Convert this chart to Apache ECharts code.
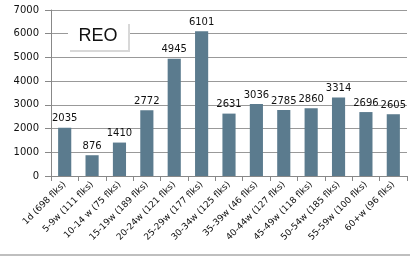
<!DOCTYPE html>
<html>
<head>
<meta charset="utf-8">
<script src="https://cdn.jsdelivr.net/npm/echarts@6/dist/echarts.min.js"></script>
<style>
  html, body { margin: 0; padding: 0; background: #fff; }
  #chart { width: 412px; height: 262px; }
</style>
</head>
<body>
<div id="chart"></div>
<script>
var categories = ['1d (698 flks)', '5-9w (111 flks)', '10-14 w (75 flks)', '15-19w (189 flks)',
    '20-24w (121 flks)', '25-29w (177 flks)', '30-34w (125 flks)', '35-39w (46 flks)',
    '40-44w (127 flks)', '45-49w (118 flks)', '50-54w (185 flks)', '55-59w (100 flks)', '60+w (96 flks)'];
var values = [2035, 876, 1410, 2772, 4945, 6101, 2631, 3036, 2785, 2860, 3314, 2696, 2605];
var yTicks = [0, 1000, 2000, 3000, 4000, 5000, 6000, 7000];

var myChart = echarts.init(document.getElementById('chart'));

myChart.setOption({
    backgroundColor: '#fff',
    animation: false,
    grid: { left: 51, right: 5, top: 10, bottom: 86 },
    xAxis: {
        type: 'category',
        data: categories,
        axisLine: { lineStyle: { color: '#888', width: 1 } },
        axisTick: { show: true, length: 5, lineStyle: { color: '#888' } },
        axisLabel: {
            rotate: 45,
            interval: 0,
            margin: 7,
            color: '#111',
            fontFamily: 'DejaVu Sans',
            fontSize: 9
        }
    },
    yAxis: {
        type: 'value',
        min: yTicks[0],
        max: yTicks[yTicks.length - 1],
        interval: 1000,
        axisLine: { show: true, lineStyle: { color: '#888', width: 1 } },
        axisTick: { show: true, length: 6, lineStyle: { color: '#888' } },
        splitLine: { lineStyle: { color: '#999', width: 1 } },
        axisLabel: {
            margin: 12,
            color: '#111',
            fontFamily: 'DejaVu Sans',
            fontSize: 10,
            formatter: function (v) { return String(v); }
        }
    },
    series: [{
        type: 'bar',
        data: values,
        barWidth: '48%',
        itemStyle: { color: '#5b7b8e' },
        label: {
            show: true,
            position: 'top',
            distance: 4,
            color: '#111',
            fontFamily: 'DejaVu Sans',
            fontSize: 10
        }
    }],
    graphic: [
        {
            type: 'rect',
            shape: { x: 70, y: 24, width: 60, height: 28 },
            style: { fill: '#d8d8d8' },
            z: 10
        },
        {
            type: 'rect',
            shape: { x: 68, y: 22, width: 60, height: 28 },
            style: { fill: '#fff' },
            z: 11
        },
        {
            type: 'text',
            x: 98,
            y: 36,
            style: {
                text: 'REO',
                fill: '#111',
                font: '18px "Liberation Sans"',
                textAlign: 'center',
                textVerticalAlign: 'middle'
            },
            z: 12
        },
        {
            type: 'line',
            shape: { x1: 0, y1: 255, x2: 410, y2: 255 },
            style: { stroke: '#aaa', lineWidth: 1.5 },
            z: 10
        }
    ]
});
</script>
</body>
</html>
